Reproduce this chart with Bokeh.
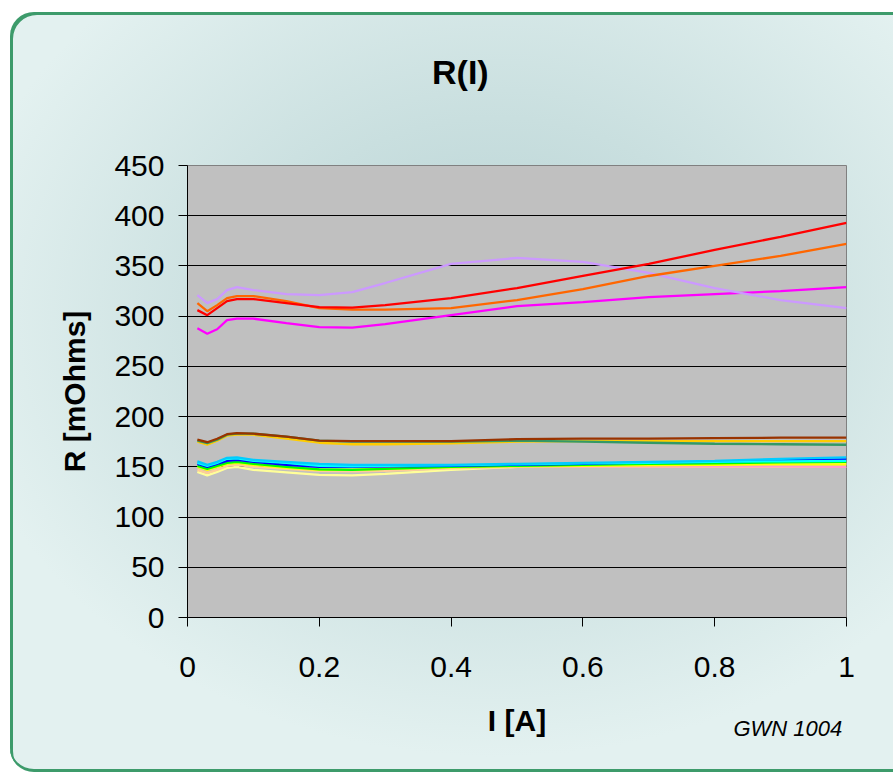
from bokeh.plotting import figure
from bokeh.models import FixedTicker, CustomJSTickFormatter, Label, Range1d
from bokeh.embed import file_html
from bokeh.resources import INLINE

# ---- data ----
current = [0.015, 0.03, 0.045, 0.06, 0.075, 0.1, 0.15, 0.2, 0.25, 0.3, 0.4, 0.5, 0.6, 0.7, 0.8, 0.9, 1.0]

r_lightyellow = [145, 141.5, 145, 149, 150, 147, 144.5, 142, 141.5, 143, 147, 150, 151, 151.5, 152, 152.5, 153]
r_peach = [147, 144, 147, 151, 152, 150, 148, 146, 145.5, 146, 148.5, 150, 150, 150, 150, 150, 150]
r_pink = [152, 149, 152, 155, 155.5, 153.5, 151, 150, 150, 150, 150.5, 150.5, 150.5, 150.5, 150.5, 150.5, 150]
r_yellow = [150, 147, 150, 153, 154, 152, 149, 147, 147, 148, 149.5, 150.5, 151, 151.5, 152, 152.5, 152.5]
r_green = [151, 148, 151, 154, 155, 153, 150, 147.5, 147, 148, 150, 151, 152, 153, 153.5, 154.5, 155]
r_blue = [153, 150, 153, 156, 157, 155, 152, 150, 150, 150.5, 151, 152, 153, 154.5, 155, 156.5, 157.5]
r_cyan = [154, 151, 154, 158, 158.5, 156, 154, 151, 150.5, 151, 151.5, 152.5, 153.5, 154, 155, 155.5, 156]
r_skyblue = [155.5, 152, 155, 159, 159.5, 157, 155, 153, 152, 152, 152, 153, 154, 155, 156, 158, 159.5]

r_gold = [175, 172, 176, 181, 182, 182, 178, 174, 172.5, 172.5, 173.5, 175, 175.5, 175.5, 175.5, 175.5, 175.5]
r_seagreen = [176, 173.5, 177, 182, 183, 183, 180, 176, 175, 175, 175, 176, 175, 174, 173, 172.5, 172]
r_brown = [177, 174.5, 178, 182.5, 183.5, 183, 180, 176, 175.5, 175.5, 175.5, 177.5, 178, 178, 178.5, 179, 179]

r_magenta = [288, 282.5, 287, 296, 297.5, 297.5, 293, 289, 288.5, 292, 301, 310, 314, 319, 322, 325, 329]
r_lavender = [321, 313, 317, 326, 329, 326, 322, 321, 324, 333, 352, 358, 354, 343, 328, 316, 308]
r_orange = [313, 305, 311, 318, 320, 320, 315, 308, 306.5, 306.5, 308, 316, 327, 340, 350, 360, 372]
r_red = [306, 301, 308, 315, 317, 317, 313, 309, 308.5, 311, 318, 328, 340, 352, 366, 379, 393]

y_ticks = [0, 50, 100, 150, 200, 250, 300, 350, 400, 450]
x_ticks = [0, 0.2, 0.4, 0.6, 0.8, 1.0]

series = [
    (r_lightyellow, "#ffff99"),
    (r_peach, "#ffcc99"),
    (r_pink, "#ff99cc"),
    (r_yellow, "#ffff00"),
    (r_green, "#00ff00"),
    (r_blue, "#0000ff"),
    (r_cyan, "#00ffff"),
    (r_skyblue, "#00ccff"),
    (r_gold, "#ffcc00"),
    (r_seagreen, "#339966"),
    (r_brown, "#993300"),
    (r_magenta, "#ff00ff"),
    (r_lavender, "#cc99ff"),
    (r_orange, "#ff6600"),
    (r_red, "#ff0000"),
]

FONT = "Liberation Sans"

p = figure(width=883, height=760, output_backend="svg", toolbar_location=None,
           x_range=Range1d(0, 1), y_range=Range1d(0, 450),
           min_border_left=177, min_border_right=47, min_border_top=153, min_border_bottom=155)

p.styles = {
    "position": "relative",
    "left": "10px",
    "top": "12px",
    "border-radius": "24px 0 0 24px",
    "background": "radial-gradient(ellipse 62% 58% at 55% 40%, #b6d1d3 0%, #c9dfdf 45%, #e3f1f0 100%)",
    "box-shadow": "inset 3px 3px 0 0 #3d9b6b, inset 0 -3px 0 0 #3d9b6b",
}

p.background_fill_color = "#c0c0c0"
p.border_fill_alpha = 0
p.outline_line_color = "#808080"
p.outline_line_width = 1
p.title.visible = False

for vals, col in series:
    p.line(current, vals, line_color=col, line_width=2.3)

p.xgrid.visible = False
p.ygrid.grid_line_color = "black"
p.ygrid.grid_line_width = 1
p.ygrid.ticker = FixedTicker(ticks=y_ticks)

p.yaxis.ticker = FixedTicker(ticks=y_ticks)
p.xaxis.ticker = FixedTicker(ticks=x_ticks)
p.xaxis.formatter = CustomJSTickFormatter(code="return tick.toFixed(1).replace('.0', '');")

for ax in (p.xaxis[0], p.yaxis[0]):
    ax.axis_line_color = "black"
    ax.axis_line_width = 1
    ax.major_tick_line_color = "black"
    ax.major_tick_in = 0
    ax.major_tick_out = 9
    ax.minor_tick_line_color = None
    ax.major_label_text_font = FONT
    ax.major_label_text_font_size = "30px"
    ax.major_label_text_color = "black"
    ax.axis_label_text_font = FONT
    ax.axis_label_text_font_style = "bold"
    ax.axis_label_text_font_size = "30px"
    ax.axis_label_text_color = "black"

p.xaxis.axis_label = "I [A]"
p.yaxis.axis_label = "R [mOhms]"
p.yaxis.major_label_standoff = 14
p.xaxis.major_label_standoff = 30
p.xaxis.axis_label_standoff = 24
p.yaxis.axis_label_standoff = 20

title = Label(x=0.414, y=542.6, text="R(I)",
              text_font=FONT, text_font_style="bold", text_font_size="34px",
              text_align="center", text_baseline="middle", text_color="black")
p.add_layout(title, "above")

stamp = Label(x=0.8285, y=-110.5, text="GWN 1004",
              text_font=FONT, text_font_style="italic", text_font_size="22px",
              text_align="left", text_baseline="middle", text_color="black")
p.add_layout(stamp, "below")

open("out.html", "w").write(file_html(p, INLINE))
